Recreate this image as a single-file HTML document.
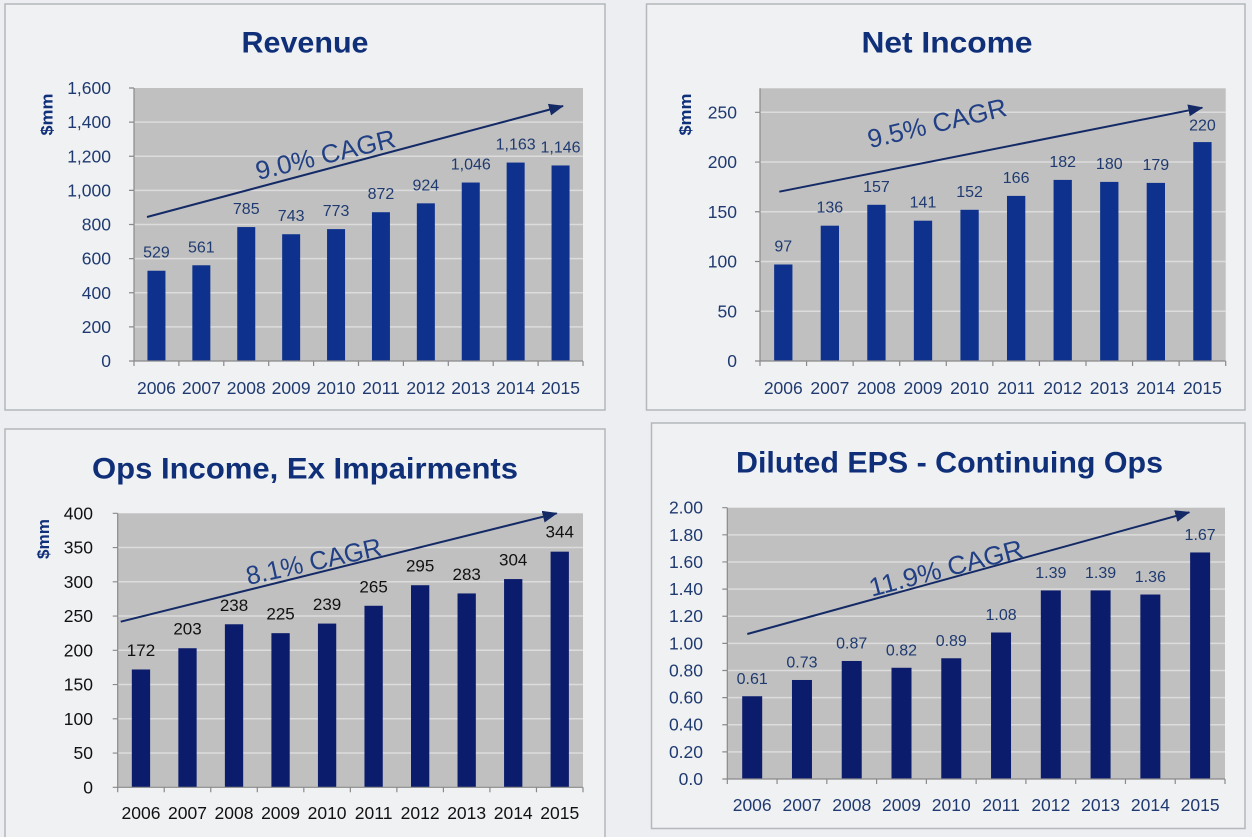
<!DOCTYPE html>
<html>
<head>
<meta charset="utf-8">
<style>
  html,body{margin:0;padding:0;background:#eceef1;}
  svg{display:block;}
  text{font-family:"Liberation Sans",Arial,sans-serif;}
  .ttl{font-weight:bold;font-size:30px;fill:#0f2f78;text-anchor:middle;}
  .yl{font-size:17.5px;fill:#1f3a70;text-anchor:end;}
  .yr{font-size:17.5px;fill:#1f3a70;text-anchor:middle;}
  .dl{font-size:16px;fill:#1f3a70;text-anchor:middle;}
  .blk{fill:#111111;}
  .mm{font-weight:bold;font-size:17px;fill:#10307a;text-anchor:middle;}
  .cagr{font-size:26px;fill:#203f84;}
  .grid{stroke:#dcdcdc;stroke-width:1.5;}
  .ax{stroke:#8a8a8a;stroke-width:1.2;fill:none;}
  .arr{stroke:#142a66;stroke-width:2;fill:none;}
</style>
</head>
<body>
<svg width="1252" height="837" viewBox="0 0 1252 837" xmlns="http://www.w3.org/2000/svg">
<defs>
  <marker id="ah" markerUnits="userSpaceOnUse" markerWidth="16" markerHeight="12" refX="14" refY="6" orient="auto">
    <path d="M0,0 L15,6 L0,12 Z" fill="#142a66"/>
  </marker>
</defs>
<rect x="0" y="0" width="1252" height="837" fill="#eceef1"/>

<!-- Panels -->
<rect x="5" y="4" width="600" height="406" fill="#f0f1f3" stroke="#b4b7bb" stroke-width="1.5"/>
<rect x="646.5" y="4" width="598.5" height="406" fill="#f0f1f3" stroke="#b4b7bb" stroke-width="1.5"/>
<rect x="5" y="429" width="600" height="420" fill="#f0f1f3" stroke="#b4b7bb" stroke-width="1.5"/>
<rect x="651.5" y="423" width="593.5" height="405.5" fill="#f0f1f3" stroke="#b4b7bb" stroke-width="1.5"/>

<!-- ============ PANEL A: Revenue ============ -->
<text class="ttl" x="305" y="52.7" textLength="127" lengthAdjust="spacingAndGlyphs">Revenue</text>
<rect x="134" y="88" width="449" height="273" fill="#c0c0c0"/>
<g class="grid">
  <line x1="134" x2="583" y1="326.9" y2="326.9"/><line x1="134" x2="583" y1="292.75" y2="292.75"/>
  <line x1="134" x2="583" y1="258.6" y2="258.6"/><line x1="134" x2="583" y1="224.5" y2="224.5"/>
  <line x1="134" x2="583" y1="190.4" y2="190.4"/><line x1="134" x2="583" y1="156.25" y2="156.25"/>
  <line x1="134" x2="583" y1="122.1" y2="122.1"/>
</g>
<g fill="#0d318c">
  <rect x="147.45" y="270.74" width="18" height="90.26"/>
  <rect x="192.35" y="265.28" width="18" height="95.72"/>
  <rect x="237.25" y="227.06" width="18" height="133.94"/>
  <rect x="282.15" y="234.23" width="18" height="126.77"/>
  <rect x="327.05" y="229.11" width="18" height="131.89"/>
  <rect x="371.95" y="212.22" width="18" height="148.78"/>
  <rect x="416.85" y="203.34" width="18" height="157.66"/>
  <rect x="461.75" y="182.53" width="18" height="178.47"/>
  <rect x="506.65" y="162.56" width="18" height="198.44"/>
  <rect x="551.55" y="165.46" width="18" height="195.54"/>
</g>
<path class="ax" d="M134,88 V361 H583"/>
<path class="ax" d="M129,88H134 M129,122.1H134 M129,156.25H134 M129,190.4H134 M129,224.5H134 M129,258.6H134 M129,292.75H134 M129,326.9H134 M129,361H134
 M134,361V366 M178.9,361V366 M223.8,361V366 M268.7,361V366 M313.6,361V366 M358.5,361V366 M403.4,361V366 M448.3,361V366 M493.2,361V366 M538.1,361V366 M583,361V366"/>
<g class="yl">
  <text x="111" y="367">0</text><text x="111" y="332.9">200</text><text x="111" y="298.75">400</text>
  <text x="111" y="264.6">600</text><text x="111" y="230.5">800</text><text x="111" y="196.4">1,000</text>
  <text x="111" y="162.25">1,200</text><text x="111" y="128.1">1,400</text><text x="111" y="94">1,600</text>
</g>
<text class="mm" transform="translate(52.5,114.5) rotate(-90)" textLength="42" lengthAdjust="spacingAndGlyphs">$mm</text>
<g class="yr">
  <text x="156.45" y="394">2006</text><text x="201.35" y="394">2007</text><text x="246.25" y="394">2008</text>
  <text x="291.15" y="394">2009</text><text x="336.05" y="394">2010</text><text x="380.95" y="394">2011</text>
  <text x="425.85" y="394">2012</text><text x="470.75" y="394">2013</text><text x="515.65" y="394">2014</text>
  <text x="560.55" y="394">2015</text>
</g>
<g class="dl">
  <text x="156.45" y="257.7">529</text><text x="201.35" y="252.3">561</text><text x="246.25" y="214.1">785</text>
  <text x="291.15" y="221.2">743</text><text x="336.05" y="216.1">773</text><text x="380.95" y="199.2">872</text>
  <text x="425.85" y="190.3">924</text><text x="470.75" y="169.5">1,046</text><text x="515.65" y="149.6">1,163</text>
  <text x="560.55" y="152.5">1,146</text>
</g>
<line class="arr" x1="147" y1="217" x2="563" y2="106" marker-end="url(#ah)"/>
<text class="cagr" transform="translate(258,180) rotate(-13.5)" textLength="143" lengthAdjust="spacingAndGlyphs">9.0% CAGR</text>

<!-- ============ PANEL B: Net Income ============ -->
<text class="ttl" x="947" y="52.7" textLength="171" lengthAdjust="spacingAndGlyphs">Net Income</text>
<rect x="760" y="88.3" width="465.7" height="272.7" fill="#c0c0c0"/>
<g class="grid">
  <line x1="760" x2="1225.7" y1="311.26" y2="311.26"/><line x1="760" x2="1225.7" y1="261.52" y2="261.52"/>
  <line x1="760" x2="1225.7" y1="211.78" y2="211.78"/><line x1="760" x2="1225.7" y1="162.04" y2="162.04"/>
  <line x1="760" x2="1225.7" y1="112.3" y2="112.3"/>
</g>
<g fill="#0d318c">
  <rect x="774.14" y="264.5" width="18.3" height="96.5"/>
  <rect x="820.71" y="225.7" width="18.3" height="135.3"/>
  <rect x="867.28" y="204.8" width="18.3" height="156.2"/>
  <rect x="913.85" y="220.7" width="18.3" height="140.3"/>
  <rect x="960.42" y="209.8" width="18.3" height="151.2"/>
  <rect x="1006.99" y="195.9" width="18.3" height="165.1"/>
  <rect x="1053.56" y="179.9" width="18.3" height="181.1"/>
  <rect x="1100.13" y="181.9" width="18.3" height="179.1"/>
  <rect x="1146.70" y="182.9" width="18.3" height="178.1"/>
  <rect x="1193.27" y="142.1" width="18.3" height="218.9"/>
</g>
<path class="ax" d="M760,88.3 V361 H1225.7"/>
<path class="ax" d="M755,112.3H760 M755,162.04H760 M755,211.78H760 M755,261.52H760 M755,311.26H760 M755,361H760
 M760,361V366 M806.57,361V366 M853.14,361V366 M899.71,361V366 M946.28,361V366 M992.85,361V366 M1039.42,361V366 M1085.99,361V366 M1132.56,361V366 M1179.13,361V366 M1225.7,361V366"/>
<g class="yl">
  <text x="737" y="367">0</text><text x="737" y="317.3">50</text><text x="737" y="267.5">100</text>
  <text x="737" y="217.8">150</text><text x="737" y="168">200</text><text x="737" y="118.3">250</text>
</g>
<text class="mm" transform="translate(691,114.5) rotate(-90)" textLength="42" lengthAdjust="spacingAndGlyphs">$mm</text>
<g class="yr">
  <text x="783.29" y="394">2006</text><text x="829.86" y="394">2007</text><text x="876.43" y="394">2008</text>
  <text x="923.0" y="394">2009</text><text x="969.57" y="394">2010</text><text x="1016.14" y="394">2011</text>
  <text x="1062.71" y="394">2012</text><text x="1109.28" y="394">2013</text><text x="1155.85" y="394">2014</text>
  <text x="1202.42" y="394">2015</text>
</g>
<g class="dl">
  <text x="783.29" y="251.5">97</text><text x="829.86" y="212.7">136</text><text x="876.43" y="191.8">157</text>
  <text x="923.0" y="207.7">141</text><text x="969.57" y="196.8">152</text><text x="1016.14" y="182.9">166</text>
  <text x="1062.71" y="166.9">182</text><text x="1109.28" y="168.9">180</text><text x="1155.85" y="169.9">179</text>
  <text x="1202.42" y="130.5">220</text>
</g>
<line class="arr" x1="779.3" y1="191.7" x2="1202.3" y2="107.7" marker-end="url(#ah)"/>
<text class="cagr" transform="translate(870,148.3) rotate(-13.4)" textLength="142" lengthAdjust="spacingAndGlyphs">9.5% CAGR</text>

<!-- ============ PANEL C: Ops Income ============ -->
<text class="ttl" x="305" y="478.3" textLength="426" lengthAdjust="spacingAndGlyphs">Ops Income, Ex Impairments</text>
<rect x="117.7" y="513.3" width="465.3" height="274" fill="#c0c0c0"/>
<g class="grid">
  <line x1="117.7" x2="583" y1="753.05" y2="753.05"/><line x1="117.7" x2="583" y1="718.8" y2="718.8"/>
  <line x1="117.7" x2="583" y1="684.55" y2="684.55"/><line x1="117.7" x2="583" y1="650.3" y2="650.3"/>
  <line x1="117.7" x2="583" y1="616.05" y2="616.05"/><line x1="117.7" x2="583" y1="581.8" y2="581.8"/>
  <line x1="117.7" x2="583" y1="547.55" y2="547.55"/>
</g>
<g fill="#0c1c6c">
  <rect x="131.82" y="669.48" width="18.3" height="117.82"/>
  <rect x="178.35" y="648.24" width="18.3" height="139.06"/>
  <rect x="224.88" y="624.27" width="18.3" height="163.03"/>
  <rect x="271.41" y="633.17" width="18.3" height="154.13"/>
  <rect x="317.94" y="623.58" width="18.3" height="163.72"/>
  <rect x="364.47" y="605.77" width="18.3" height="181.53"/>
  <rect x="411.0" y="585.22" width="18.3" height="202.08"/>
  <rect x="457.53" y="593.44" width="18.3" height="193.86"/>
  <rect x="504.06" y="579.06" width="18.3" height="208.24"/>
  <rect x="550.59" y="551.66" width="18.3" height="235.64"/>
</g>
<path class="ax" d="M117.7,513.3 V787.3 H583"/>
<path class="ax" d="M112.7,513.3H117.7 M112.7,547.55H117.7 M112.7,581.8H117.7 M112.7,616.05H117.7 M112.7,650.3H117.7 M112.7,684.55H117.7 M112.7,718.8H117.7 M112.7,753.05H117.7 M112.7,787.3H117.7
 M117.7,787.3V792.3 M164.23,787.3V792.3 M210.76,787.3V792.3 M257.29,787.3V792.3 M303.82,787.3V792.3 M350.35,787.3V792.3 M396.88,787.3V792.3 M443.41,787.3V792.3 M489.94,787.3V792.3 M536.47,787.3V792.3 M583,787.3V792.3"/>
<g class="yl blk">
  <text x="93" y="793.3">0</text><text x="93" y="759.05">50</text><text x="93" y="724.8">100</text>
  <text x="93" y="690.55">150</text><text x="93" y="656.3">200</text><text x="93" y="622.05">250</text>
  <text x="93" y="587.8">300</text><text x="93" y="553.55">350</text><text x="93" y="519.3">400</text>
</g>
<text class="mm" transform="translate(49,539) rotate(-90)" textLength="40" lengthAdjust="spacingAndGlyphs">$mm</text>
<g class="yr blk">
  <text x="140.97" y="819">2006</text><text x="187.5" y="819">2007</text><text x="234.03" y="819">2008</text>
  <text x="280.56" y="819">2009</text><text x="327.09" y="819">2010</text><text x="373.62" y="819">2011</text>
  <text x="420.15" y="819">2012</text><text x="466.68" y="819">2013</text><text x="513.21" y="819">2014</text>
  <text x="559.74" y="819">2015</text>
</g>
<g class="dl blk" style="font-size:17px">
  <text x="140.97" y="656.0">172</text><text x="187.5" y="634.7">203</text><text x="234.03" y="610.8">238</text>
  <text x="280.56" y="619.7">225</text><text x="327.09" y="610.1">239</text><text x="373.62" y="592.3">265</text>
  <text x="420.15" y="571.7">295</text><text x="466.68" y="579.9">283</text><text x="513.21" y="565.6">304</text>
  <text x="559.74" y="537.5">344</text>
</g>
<line class="arr" x1="120.7" y1="621.7" x2="556.7" y2="513.3" marker-end="url(#ah)"/>
<text class="cagr" transform="translate(248.3,585) rotate(-12.5)" textLength="138" lengthAdjust="spacingAndGlyphs">8.1% CAGR</text>

<!-- ============ PANEL D: Diluted EPS ============ -->
<text class="ttl" x="949.5" y="472.7" textLength="427" lengthAdjust="spacingAndGlyphs">Diluted EPS - Continuing Ops</text>
<rect x="727.3" y="507.7" width="497.7" height="271.3" fill="#c0c0c0"/>
<g class="grid">
  <line x1="727.3" x2="1225" y1="751.87" y2="751.87"/><line x1="727.3" x2="1225" y1="724.74" y2="724.74"/>
  <line x1="727.3" x2="1225" y1="697.61" y2="697.61"/><line x1="727.3" x2="1225" y1="670.48" y2="670.48"/>
  <line x1="727.3" x2="1225" y1="643.35" y2="643.35"/><line x1="727.3" x2="1225" y1="616.22" y2="616.22"/>
  <line x1="727.3" x2="1225" y1="589.09" y2="589.09"/><line x1="727.3" x2="1225" y1="561.96" y2="561.96"/>
  <line x1="727.3" x2="1225" y1="534.83" y2="534.83"/>
</g>
<g fill="#0c1c6c">
  <rect x="742.19" y="696.25" width="20" height="82.75"/>
  <rect x="791.96" y="679.98" width="20" height="99.02"/>
  <rect x="841.73" y="660.98" width="20" height="118.02"/>
  <rect x="891.5" y="667.77" width="20" height="111.23"/>
  <rect x="941.27" y="658.27" width="20" height="120.73"/>
  <rect x="991.04" y="632.5" width="20" height="146.5"/>
  <rect x="1040.81" y="590.45" width="20" height="188.55"/>
  <rect x="1090.58" y="590.45" width="20" height="188.55"/>
  <rect x="1140.35" y="594.52" width="20" height="184.48"/>
  <rect x="1190.12" y="552.46" width="20" height="226.54"/>
</g>
<path class="ax" d="M727.3,507.7 V779 H1225"/>
<path class="ax" d="M722.3,507.7H727.3 M722.3,534.83H727.3 M722.3,561.96H727.3 M722.3,589.09H727.3 M722.3,616.22H727.3 M722.3,643.35H727.3 M722.3,670.48H727.3 M722.3,697.61H727.3 M722.3,724.74H727.3 M722.3,751.87H727.3 M722.3,779H727.3
 M727.3,779V784 M777.07,779V784 M826.84,779V784 M876.61,779V784 M926.38,779V784 M976.15,779V784 M1025.92,779V784 M1075.69,779V784 M1125.46,779V784 M1175.23,779V784 M1225,779V784"/>
<g class="yl">
  <text x="703" y="785">0.0</text><text x="703" y="757.9">0.20</text><text x="703" y="730.7">0.40</text>
  <text x="703" y="703.6">0.60</text><text x="703" y="676.5">0.80</text><text x="703" y="649.4">1.00</text>
  <text x="703" y="622.2">1.20</text><text x="703" y="595.1">1.40</text><text x="703" y="568">1.60</text>
  <text x="703" y="540.8">1.80</text><text x="703" y="513.7">2.00</text>
</g>
<g class="yr">
  <text x="752.19" y="811">2006</text><text x="801.96" y="811">2007</text><text x="851.73" y="811">2008</text>
  <text x="901.5" y="811">2009</text><text x="951.27" y="811">2010</text><text x="1001.04" y="811">2011</text>
  <text x="1050.81" y="811">2012</text><text x="1100.58" y="811">2013</text><text x="1150.35" y="811">2014</text>
  <text x="1200.12" y="811">2015</text>
</g>
<g class="dl">
  <text x="752.19" y="683.75">0.61</text><text x="801.96" y="667.5">0.73</text><text x="851.73" y="648.5">0.87</text>
  <text x="901.5" y="655.3">0.82</text><text x="951.27" y="645.8">0.89</text><text x="1001.04" y="620">1.08</text>
  <text x="1050.81" y="578">1.39</text><text x="1100.58" y="578">1.39</text><text x="1150.35" y="582">1.36</text>
  <text x="1200.12" y="540">1.67</text>
</g>
<line class="arr" x1="747.3" y1="634" x2="1189.3" y2="512.3" marker-end="url(#ah)"/>
<text class="cagr" transform="translate(871.7,596.7) rotate(-14.7)" textLength="158" lengthAdjust="spacingAndGlyphs">11.9% CAGR</text>
</svg>
</body>
</html>
